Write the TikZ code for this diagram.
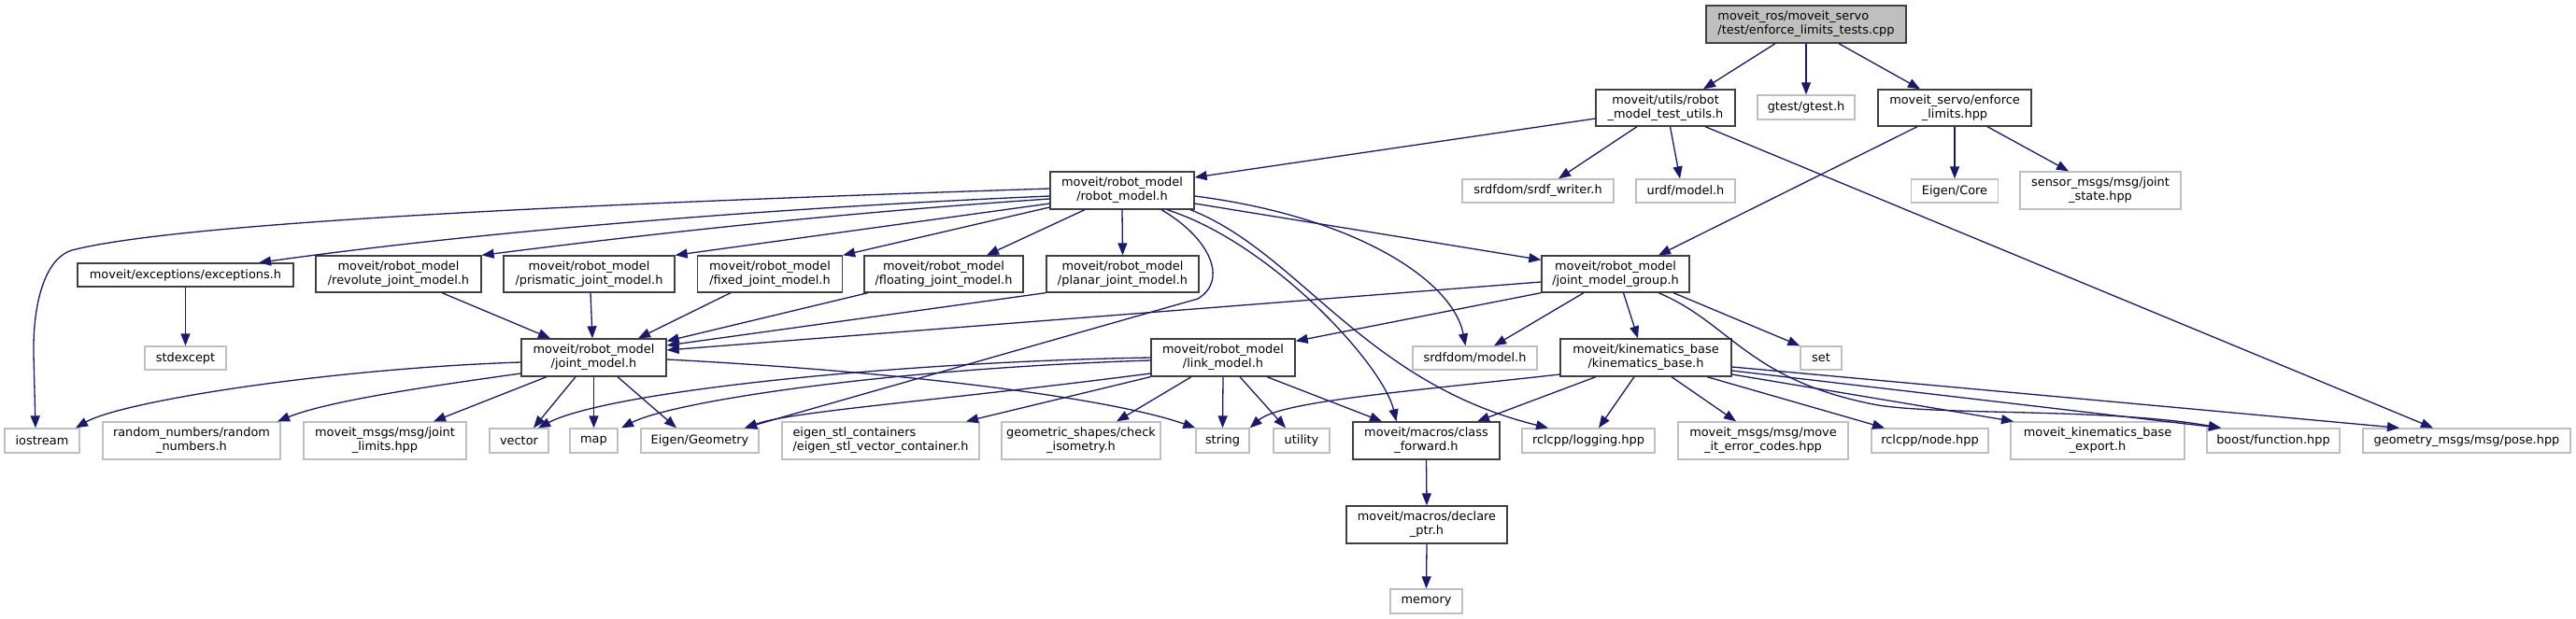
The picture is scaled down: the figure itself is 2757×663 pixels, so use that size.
\documentclass[tikz,border=0pt]{standalone}
\usepackage{fontspec}
\setmainfont{DejaVu Sans}
\usetikzlibrary{arrows.meta}
\definecolor{edgec}{HTML}{191970}
\definecolor{docb}{HTML}{404040}
\definecolor{extb}{HTML}{BFBFBF}
\definecolor{rootf}{HTML}{BFBFBF}
\begin{document}
\begin{tikzpicture}[x=1pt,y=-1pt,
  every node/.style={font=\fontsize{12.9}{15}\selectfont, align=center, inner sep=0pt, rectangle},
  doc/.style={draw=docb, line width=1.3pt, fill=white},
  ext/.style={draw=extb, line width=1.3pt, fill=white},
  e/.style={draw=edgec, line width=1.3pt, -{Triangle[length=13pt,width=10pt]}},
  sz/.style 2 args={minimum width=#1pt, minimum height=#2pt}]
\fill[white] (0,0) rectangle (2757,663);
\useasboundingbox (0,0) rectangle (2757,663);

% row 0
\node[doc, fill=rootf, sz={214}{40}, align=left] (root) at (1933,26) {moveit\_ros/moveit\_servo\\/test/enforce\_limits\_tests.cpp};
% row 1
\node[doc, sz={149}{39}] (utils) at (1782.5,115.5) {moveit/utils/robot\\\_model\_test\_utils.h};
\node[ext, sz={104}{26}] (gtest) at (1933,115) {gtest/gtest.h};
\node[doc, sz={164}{39}] (enforce) at (2092,115.5) {moveit\_servo/enforce\\\_limits.hpp};
% row 2
\node[doc, sz={154}{40}] (robot) at (1201,204) {moveit/robot\_model\\/robot\_model.h};
\node[ext, sz={162}{25}] (srdfw) at (1646,204.5) {srdfdom/srdf\_writer.h};
\node[ext, sz={106}{25}] (urdf) at (1804,204.5) {urdf/model.h};
\node[ext, sz={93}{25}] (eigencore) at (2092,204.5) {Eigen/Core};
\node[ext, sz={172}{40}] (sensor) at (2248,204) {sensor\_msgs/msg/joint\\\_state.hpp};
% row 3
\node[doc, sz={231}{25}] (exceptions) at (198.5,294.5) {moveit/exceptions/exceptions.h};
\node[doc, sz={177}{39}] (revolute) at (426.5,293.5) {moveit/robot\_model\\/revolute\_joint\_model.h};
\node[doc, sz={183}{39}] (prismatic) at (630.5,293.5) {moveit/robot\_model\\/prismatic\_joint\_model.h};
\node[doc, sz={155}{39}] (fixed) at (824,293.5) {moveit/robot\_model\\/fixed\_joint\_model.h};
\node[doc, sz={170}{39}] (floating) at (1010,293.5) {moveit/robot\_model\\/floating\_joint\_model.h};
\node[doc, sz={163}{39}] (planar) at (1201.5,293.5) {moveit/robot\_model\\/planar\_joint\_model.h};
\node[doc, sz={158}{39}] (jmg) at (1729,293.5) {moveit/robot\_model\\/joint\_model\_group.h};
% row 4
\node[ext, sz={87}{25}] (stdexcept) at (198.5,383.5) {stdexcept};
\node[doc, sz={155}{40}] (jm) at (635.5,383) {moveit/robot\_model\\/joint\_model.h};
\node[doc, sz={154}{40}] (link) at (1309,383) {moveit/robot\_model\\/link\_model.h};
\node[ext, sz={133}{25}] (srdfmodel) at (1578.5,383.5) {srdfdom/model.h};
\node[doc, sz={183}{40}] (kin) at (1761.5,383) {moveit/kinematics\_base\\/kinematics\_base.h};
\node[ext, sz={44}{25}] (setn) at (1949,383.5) {set};
% row 5
\node[ext, sz={80}{26}] (iostream) at (45,472) {iostream};
\node[ext, sz={190}{40}] (random) at (205,472) {random\_numbers/random\\\_numbers.h};
\node[ext, sz={174}{40}] (jlimits) at (412,472) {moveit\_msgs/msg/joint\\\_limits.hpp};
\node[ext, sz={63}{26}] (vectorn) at (555.5,472) {vector};
\node[ext, sz={51}{26}] (mapn) at (635.5,472) {map};
\node[ext, sz={126}{26}] (eigengeom) at (749,472) {Eigen/Geometry};
\node[ext, sz={211}{40}, align=left] (eigenstl) at (942.5,472) {eigen\_stl\_containers\\/eigen\_stl\_vector\_container.h};
\node[ext, sz={170}{40}] (geomshapes) at (1157,472) {geometric\_shapes/check\\\_isometry.h};
\node[ext, sz={57}{26}] (strn) at (1308.5,472) {string};
\node[ext, sz={60}{26}] (utility) at (1393,472) {utility};
\node[doc, sz={157}{40}] (classfwd) at (1526.5,472) {moveit/macros/class\\\_forward.h};
\node[ext, sz={142}{26}] (logging) at (1700,472) {rclcpp/logging.hpp};
\node[ext, sz={182}{40}] (errcodes) at (1887,472) {moveit\_msgs/msg/move\\\_it\_error\_codes.hpp};
\node[ext, sz={125}{26}] (rclnode) at (2065.5,472) {rclcpp/node.hpp};
\node[ext, sz={186}{40}] (kexport) at (2245,472) {moveit\_kinematics\_base\\\_export.h};
\node[ext, sz={142}{26}] (boost) at (2433,472) {boost/function.hpp};
\node[ext, sz={222}{26}] (pose) at (2640,472) {geometry\_msgs/msg/pose.hpp};
% row 6,7
\node[doc, sz={172}{40}] (declare) at (1527,562) {moveit/macros/declare\\\_ptr.h};
\node[ext, sz={77}{26}] (mem) at (1526.5,644) {memory};

% edges from root
\draw[e] ([xshift=-33pt]root.south) -- ([xshift=40.5pt]utils.north);
\draw[e] (root.south) -- (gtest.north);
\draw[e] ([xshift=35pt]root.south) -- ([xshift=-37pt]enforce.north);
% utils
\draw[e] ([yshift=-11.5pt]utils.west) -- ([yshift=14pt]robot.east);
\draw[e] ([xshift=-30.5pt]utils.south) -- ([xshift=22pt]srdfw.north);
\draw[e] ([xshift=5pt]utils.south) -- ([xshift=-6pt]urdf.north);
\draw[e] ([xshift=42.5pt]utils.south) -- ([xshift=-36pt]pose.north);
% enforce
\draw[e] ([xshift=-40pt]enforce.south) -- ([xshift=46pt]jmg.north);
\draw[e] (enforce.south) -- (eigencore.north);
\draw[e] ([xshift=35pt]enforce.south) -- ([xshift=-34pt]sensor.north);
% robot_model.h
\draw[e] ([yshift=2pt]robot.west) .. controls (700,216) and (200,236) .. (77,268) .. controls (50,276) and (35,320) .. (36,380) -- ([xshift=-7pt]iostream.north);
\draw[e] ([yshift=-6pt]robot.west) .. controls (800,224) and (500,250) .. ([xshift=78.5pt]exceptions.north);
\draw[e] ([yshift=-9pt]robot.west) .. controls (900,228) and (700,250) .. (revolute.north east);
\draw[e] ([yshift=-14pt]robot.west) -- (prismatic.north east);
\draw[e] ([yshift=-18pt]robot.west) -- (fixed.north east);
\draw[e] ([xshift=-40pt]robot.south) -- ([xshift=46pt]floating.north);
\draw[e] (robot.south) -- (planar.north);
\draw[e] ([yshift=-14pt]robot.east) -- ([yshift=-5pt]jmg.north west);
\draw[e] ([xshift=42pt]robot.south) .. controls (1295,255) and (1315,300) .. (1282,320) -- ([xshift=48pt]eigengeom.north);
\draw[e] ([xshift=48pt]robot.south) .. controls (1360,260) and (1480,390) .. ([xshift=-32pt]classfwd.north);
\draw[e] ([xshift=73pt]robot.south) .. controls (1390,270) and (1460,410) .. ([xshift=-43pt]logging.north);
\draw[e] ([yshift=-6pt]robot.east) .. controls (1450,232) and (1555,300) .. ([xshift=-10pt]srdfmodel.north);
% joint_model_group
\draw[e] ([yshift=-8.5pt]jmg.west) -- ([yshift=8pt]jm.east);
\draw[e] (jmg.south west) -- ([yshift=-3pt]link.north east);
\draw[e] ([xshift=-34pt]jmg.south) -- ([xshift=20.5pt]srdfmodel.north);
\draw[e] ([xshift=8.5pt]jmg.south) -- ([xshift=-8.5pt]kin.north);
\draw[e] ([xshift=62pt]jmg.south) -- (setn.north west);
\draw[e] ([xshift=46pt]jmg.south) .. controls (1850,345) and (1870,405) .. (2000,432) .. controls (2060,446) and (2250,436) .. ([xshift=-56pt]boost.north);
% kinematics_base
\draw[e] ([yshift=-18pt]kin.west) .. controls (1500,420) and (1370,430) .. (strn.north east);
\draw[e] ([xshift=-53.5pt]kin.south) -- ([xshift=54.5pt]classfwd.north);
\draw[e] ([xshift=-12.5pt]kin.south) -- ([xshift=11pt]logging.north);
\draw[e] ([xshift=27.5pt]kin.south) -- ([xshift=-29pt]errcodes.north);
\draw[e] ([xshift=65.5pt]kin.south) -- ([xshift=-48.5pt]rclnode.north);
\draw[e] ([yshift=-18pt]kin.east) -- ([xshift=-90pt]kexport.north);
\draw[e] ([yshift=-14pt]kin.east) -- ([xshift=-56pt]boost.north);
\draw[e] ([yshift=-10pt]kin.east) -- ([xshift=-72pt]pose.north);
% link_model
\draw[e] (link.west) .. controls (950,388) and (650,420) .. ([xshift=20.5pt]vectorn.north);
\draw[e] ([yshift=-3pt]link.west) .. controls (950,395) and (720,430) .. ([xshift=29.5pt]mapn.north);
\draw[e] ([yshift=-17pt]link.west) .. controls (1000,430) and (850,440) .. ([xshift=48pt]eigengeom.north);
\draw[e] (link.south west) -- ([xshift=91.5pt]eigenstl.north);
\draw[e] ([xshift=-34pt]link.south) -- ([xshift=38pt]geomshapes.north);
\draw[e] (link.south) -- (strn.north);
\draw[e] ([xshift=18pt]link.south) -- ([xshift=-17pt]utility.north);
\draw[e] ([xshift=47pt]link.south) -- ([xshift=-47.5pt]classfwd.north);
% joint_model.h
\draw[e] ([yshift=-5pt]jm.west) .. controls (350,395) and (130,430) .. ([xshift=36pt]iostream.north);
\draw[e] ([yshift=-17pt]jm.west) .. controls (450,415) and (350,430) .. ([xshift=92pt]random.north);
\draw[e] ([xshift=-50.5pt]jm.south) -- ([xshift=52pt]jlimits.north);
\draw[e] ([xshift=-19.5pt]jm.south) -- ([xshift=15.5pt]vectorn.north);
\draw[e] (jm.south) -- (mapn.north);
\draw[e] ([xshift=25.5pt]jm.south) -- ([xshift=-25pt]eigengeom.north);
\draw[e] ([yshift=-2pt]jm.east) .. controls (1000,400) and (1200,430) .. (strn.north west);
% into joint_model.h
\draw[e] ([xshift=46.5pt]revolute.south) -- ([xshift=-46.5pt]jm.north);
\draw[e] ([xshift=1.5pt]prismatic.south) -- ([xshift=-1.5pt]jm.north);
\draw[e] ([xshift=-42pt]fixed.south) -- ([xshift=47.5pt]jm.north);
\draw[e] ([xshift=-81pt]floating.south) -- ([yshift=-3pt]jm.north east);
\draw[e] (planar.south west) -- ([yshift=13pt]jm.east);
% others
\draw[e] (exceptions.south) -- (stdexcept.north);
\draw[e] (classfwd.south) -- (declare.north);
\draw[e] (declare.south) -- (mem.north);
\end{tikzpicture}
\end{document}
